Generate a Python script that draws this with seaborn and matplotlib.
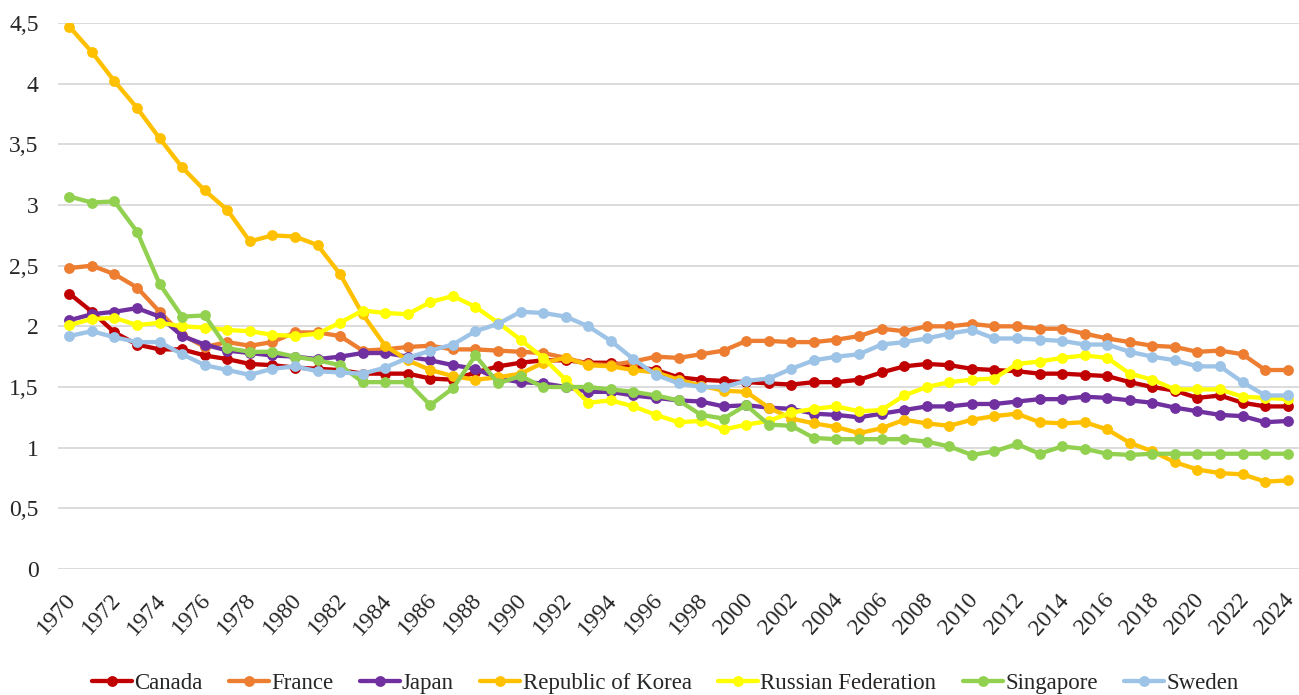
import pandas as pd
import seaborn as sns
import matplotlib.pyplot as plt
import matplotlib.transforms as mtransforms
from matplotlib.ticker import FuncFormatter

# Total fertility rate, 1970-2024
years = list(range(1970, 2025))

canada = [2.27, 2.12, 1.95, 1.85, 1.81, 1.81, 1.76, 1.73, 1.69, 1.68,
          1.66, 1.65, 1.64, 1.61, 1.61, 1.61, 1.57, 1.56, 1.62, 1.67,
          1.70, 1.72, 1.72, 1.70, 1.70, 1.67, 1.64, 1.58, 1.56, 1.55,
          1.54, 1.53, 1.52, 1.54, 1.54, 1.56, 1.62, 1.67, 1.69, 1.68,
          1.65, 1.64, 1.63, 1.61, 1.61, 1.60, 1.59, 1.54, 1.50, 1.47,
          1.41, 1.43, 1.37, 1.34, 1.34]
france = [2.48, 2.50, 2.43, 2.32, 2.12, 1.93, 1.83, 1.87, 1.84, 1.87,
          1.95, 1.95, 1.92, 1.80, 1.81, 1.83, 1.84, 1.81, 1.81, 1.80,
          1.79, 1.78, 1.74, 1.69, 1.68, 1.71, 1.75, 1.74, 1.77, 1.80,
          1.88, 1.88, 1.87, 1.87, 1.89, 1.92, 1.98, 1.96, 2.00, 2.00,
          2.02, 2.00, 2.00, 1.98, 1.98, 1.94, 1.90, 1.87, 1.84, 1.83,
          1.79, 1.80, 1.77, 1.64, 1.64]
japan = [2.05, 2.10, 2.12, 2.15, 2.08, 1.92, 1.85, 1.80, 1.78, 1.76,
         1.75, 1.73, 1.75, 1.78, 1.78, 1.75, 1.72, 1.68, 1.65, 1.57,
         1.54, 1.53, 1.50, 1.46, 1.46, 1.43, 1.41, 1.39, 1.38, 1.34,
         1.35, 1.33, 1.32, 1.28, 1.27, 1.25, 1.28, 1.31, 1.34, 1.34,
         1.36, 1.36, 1.38, 1.40, 1.40, 1.42, 1.41, 1.39, 1.37, 1.33,
         1.30, 1.27, 1.26, 1.21, 1.22]
korea = [4.47, 4.26, 4.02, 3.80, 3.55, 3.31, 3.12, 2.96, 2.70, 2.75,
         2.74, 2.67, 2.43, 2.10, 1.84, 1.72, 1.64, 1.59, 1.56, 1.58,
         1.61, 1.70, 1.74, 1.68, 1.67, 1.64, 1.62, 1.56, 1.51, 1.47,
         1.46, 1.33, 1.24, 1.20, 1.17, 1.12, 1.16, 1.23, 1.20, 1.18,
         1.23, 1.26, 1.28, 1.21, 1.20, 1.21, 1.15, 1.04, 0.97, 0.88,
         0.82, 0.79, 0.78, 0.72, 0.73]
russia = [2.01, 2.06, 2.07, 2.01, 2.03, 2.00, 1.99, 1.97, 1.96, 1.93,
          1.92, 1.94, 2.03, 2.13, 2.11, 2.10, 2.20, 2.25, 2.16, 2.03,
          1.89, 1.74, 1.56, 1.37, 1.39, 1.34, 1.27, 1.21, 1.22, 1.15,
          1.19, 1.22, 1.29, 1.32, 1.34, 1.30, 1.31, 1.43, 1.50, 1.54,
          1.56, 1.57, 1.69, 1.71, 1.74, 1.76, 1.74, 1.61, 1.56, 1.48,
          1.48, 1.48, 1.42, 1.41, 1.40]
singapore = [3.07, 3.02, 3.03, 2.78, 2.35, 2.08, 2.09, 1.82, 1.79, 1.79,
             1.75, 1.72, 1.68, 1.54, 1.54, 1.54, 1.35, 1.49, 1.76, 1.53,
             1.59, 1.50, 1.50, 1.50, 1.48, 1.46, 1.43, 1.39, 1.27, 1.24,
             1.35, 1.19, 1.18, 1.08, 1.07, 1.07, 1.07, 1.07, 1.05, 1.01,
             0.94, 0.97, 1.03, 0.95, 1.01, 0.99, 0.95, 0.94, 0.95, 0.95,
             0.95, 0.95, 0.95, 0.95, 0.95]
sweden = [1.92, 1.96, 1.91, 1.87, 1.87, 1.77, 1.68, 1.64, 1.60, 1.65,
          1.67, 1.63, 1.62, 1.61, 1.66, 1.74, 1.80, 1.85, 1.96, 2.02,
          2.12, 2.11, 2.08, 2.00, 1.88, 1.73, 1.60, 1.53, 1.50, 1.50,
          1.55, 1.57, 1.65, 1.72, 1.75, 1.77, 1.85, 1.87, 1.90, 1.94,
          1.97, 1.90, 1.90, 1.89, 1.88, 1.85, 1.85, 1.79, 1.75, 1.72,
          1.67, 1.67, 1.54, 1.43, 1.43]

countries = ["Canada", "France", "Japan", "Republic of Korea",
             "Russian Federation", "Singapore", "Sweden"]
series = [canada, france, japan, korea, russia, singapore, sweden]
colors = ["#C00000", "#ED7D31", "#7030A0", "#FFC000",
          "#FFFF00", "#92D050", "#9DC3E6"]

rows = []
for name, vals in zip(countries, series):
    for yr, v in zip(years, vals):
        rows.append({"year": yr, "value": v, "country": name})
df = pd.DataFrame(rows)

sns.set_theme(style="white")
plt.rcParams["font.family"] = ["Liberation Serif", "DejaVu Serif"]

fig = plt.figure(figsize=(12.99, 6.95), dpi=100)
ax = fig.add_axes([0.0447, 0.1813, 0.9553, 0.7856])

sns.lineplot(
    data=df, x="year", y="value", hue="country",
    hue_order=countries, palette=colors,
    marker="o", markersize=7.8, markeredgewidth=0,
    linewidth=3.1, ax=ax,
)

ax.set_xlim(1969.5, 2024.5)
ax.set_ylim(0, 4.5)
ax.set_xticks(years[::2])
ax.set_yticks([0, 0.5, 1, 1.5, 2, 2.5, 3, 3.5, 4, 4.5])
ax.yaxis.set_major_formatter(
    FuncFormatter(lambda v, p: ("%g" % v).replace(".", ",")))
ax.set_xlabel("")
ax.set_ylabel("")
ax.grid(axis="y", color="#D9D9D9", linewidth=1.3)
ax.set_axisbelow(True)
for s in ax.spines.values():
    s.set_visible(False)
ax.tick_params(axis="y", length=0, labelsize=17, colors="#262626", pad=14)
ax.tick_params(axis="x", length=0, labelsize=17, colors="#262626", pad=20)

# nudge the rotated year labels a bit to the right, like the original
shift = mtransforms.ScaledTranslation(3 / 100, 0, fig.dpi_scale_trans)
for lab in ax.get_xticklabels():
    lab.set_rotation(48)
    lab.set_ha("right")
    lab.set_va("center")
    lab.set_rotation_mode("anchor")
    lab.set_transform(lab.get_transform() + shift)

handles, labels = ax.get_legend_handles_labels()
ax.get_legend().remove()
fig.legend(handles, labels, loc="lower center", bbox_to_anchor=(0.512, -0.028),
           ncol=7, frameon=False, fontsize=16.5, handlelength=1.75,
           handletextpad=0.1, columnspacing=1.15, labelcolor="#262626")

fig.savefig("out.png", dpi=100)
